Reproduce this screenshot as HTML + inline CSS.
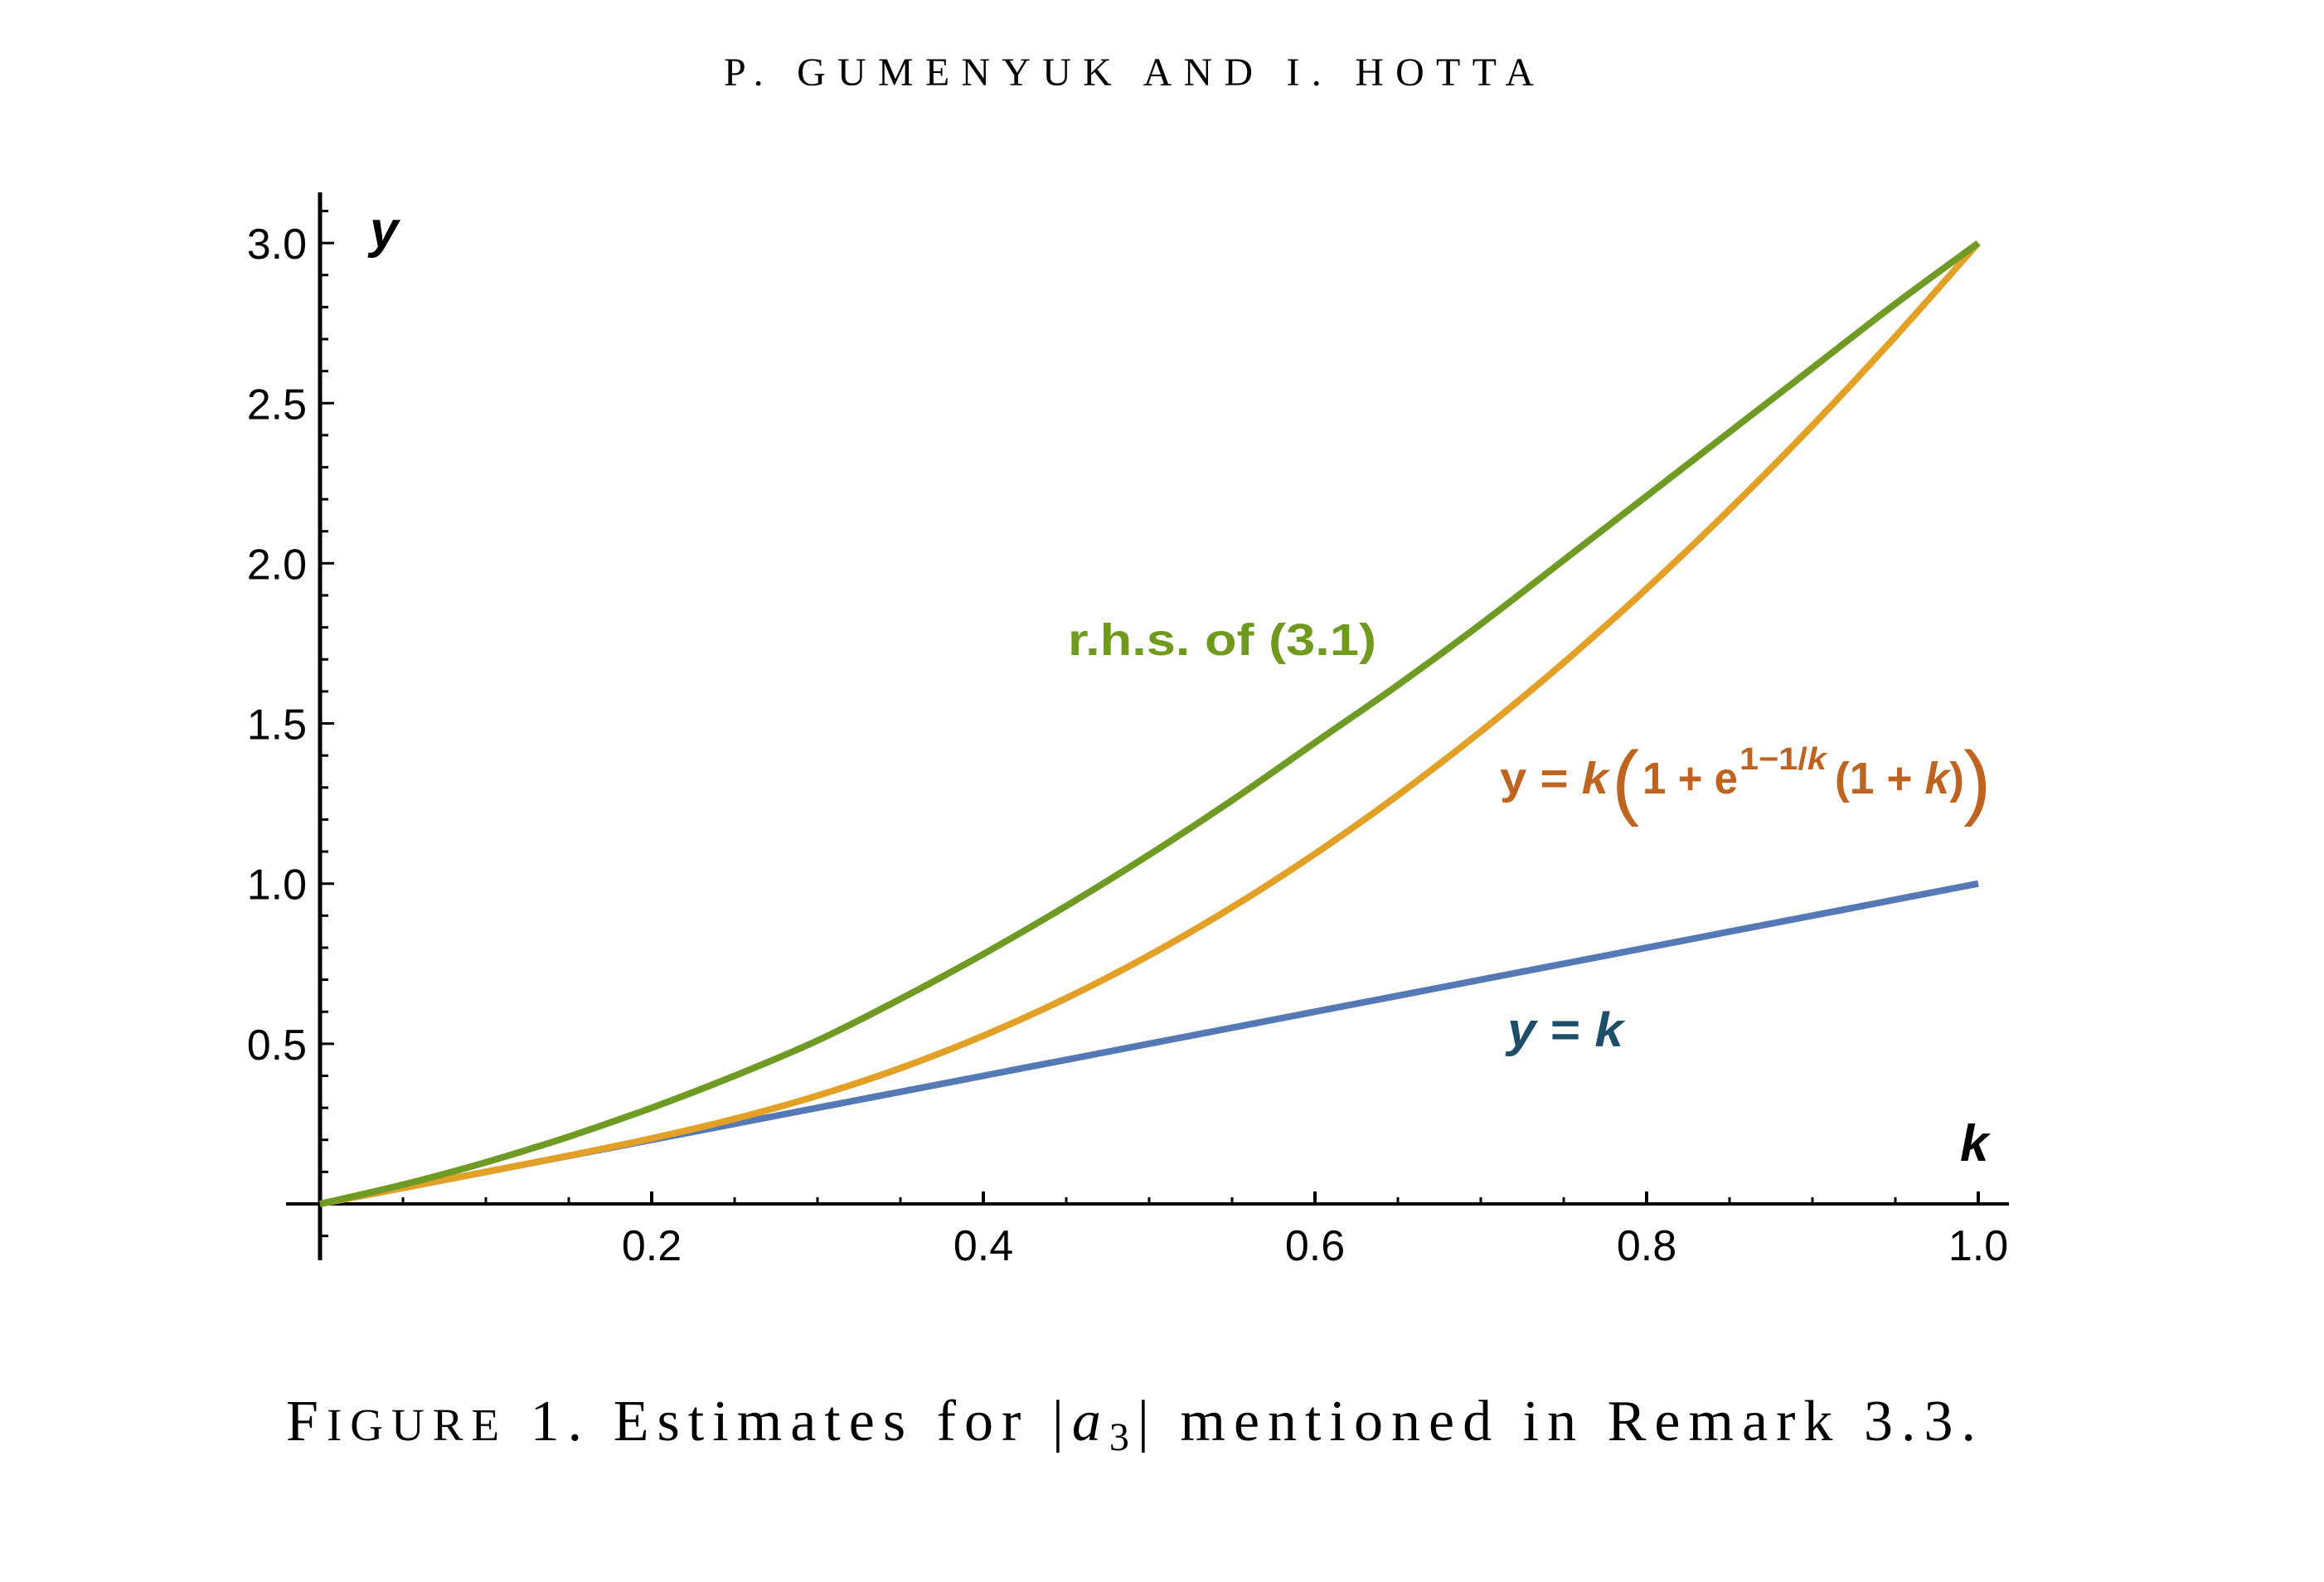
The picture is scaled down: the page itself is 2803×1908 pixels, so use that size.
<!DOCTYPE html>
<html><head><meta charset="utf-8"><style>
html,body{margin:0;padding:0;background:#fff;width:2803px;height:1908px;overflow:hidden}
svg{display:block}
</style></head><body>
<svg id="chart" width="2803" height="1908" viewBox="0 0 2803 1908" xmlns="http://www.w3.org/2000/svg">
<text x="873" y="103" font-family="Liberation Serif, serif" font-size="48" fill="#000" textLength="977" lengthAdjust="spacing">P. GUMENYUK AND I. HOTTA</text>
<g id="axes"></g>
<g id="series"></g>
<text x="446" y="298" font-family="Liberation Sans, sans-serif" font-weight="bold" font-style="italic" font-size="62" fill="#000">y</text>
<text x="2364" y="1400" font-family="Liberation Sans, sans-serif" font-weight="bold" font-style="italic" font-size="62" fill="#000">k</text>
<text x="1288" y="790" font-family="Liberation Sans, sans-serif" font-weight="bold" font-size="54" fill="#6f9a1d" textLength="372" lengthAdjust="spacingAndGlyphs">r.h.s. of (3.1)</text>
<g font-family="Liberation Sans, sans-serif" font-weight="bold" font-size="54" fill="#bf6420">
<text x="1809" y="957" textLength="131" lengthAdjust="spacingAndGlyphs">y = <tspan font-style="italic">k</tspan></text>
<text x="1944" y="976" font-size="100" font-weight="normal">(</text>
<text x="1981" y="957" textLength="115" lengthAdjust="spacingAndGlyphs">1 + e</text>
<text x="2098" y="928" font-size="38" textLength="105" lengthAdjust="spacingAndGlyphs">1−1/<tspan font-style="italic">k</tspan></text>
<text x="2213" y="957" textLength="156" lengthAdjust="spacingAndGlyphs">(1 + <tspan font-style="italic">k</tspan>)</text>
<text x="2368" y="976" font-size="100" font-weight="normal">)</text>
</g>
<text x="1818" y="1262" font-family="Liberation Sans, sans-serif" font-weight="bold" font-size="58" fill="#1d4f6b" textLength="140" lengthAdjust="spacingAndGlyphs"><tspan font-style="italic">y</tspan> = <tspan font-style="italic">k</tspan></text>
<text x="345" y="1737" font-family="Liberation Serif, serif" font-size="70" fill="#000" textLength="2038" lengthAdjust="spacing">F<tspan font-size="55">IGURE</tspan> 1.  Estimates for |<tspan font-style="italic">a</tspan><tspan font-size="48" dy="12">3</tspan><tspan dy="-12">| mentioned in Remark 3.3.</tspan></text>
</svg>
<script>
const kValues=[0,0.05,0.1,0.15,0.2,0.25,0.3,0.35,0.4,0.45,0.5,0.55,0.6,0.65,0.7,0.75,0.8,0.85,0.9,0.95,1.0];
const blueValues=[0,0.05,0.1,0.15,0.2,0.25,0.3,0.35,0.4,0.45,0.5,0.55,0.6,0.65,0.7,0.75,0.8,0.85,0.9,0.95,1.0];
const orangeValues=[0,0.05,0.1,0.1506,0.2044,0.2656,0.338,0.4238,0.525,0.6422,0.776,0.9261,1.093,1.276,1.475,1.69,1.921,2.168,2.43,2.708,3.0];
const greenValues=[0,0.06,0.13,0.21,0.3,0.4,0.51,0.64,0.78,0.93,1.09,1.26,1.44,1.62,1.81,2.01,2.21,2.41,2.61,2.81,3.0];
const xTickLabels=["0.2","0.4","0.6","0.8","1.0"];
const xTickValues=[0.2,0.4,0.6,0.8,1.0];
const yTickLabels=["0.5","1.0","1.5","2.0","2.5","3.0"];
const yTickValues=[0.5,1.0,1.5,2.0,2.5,3.0];

const NS="http://www.w3.org/2000/svg";
const X0=386,PX=2000,Y0=1452,PY=386.3;
function xs(v){return X0+v*PX;}
function ys(v){return Y0-v*PY;}
const axes=document.getElementById('axes');
const series=document.getElementById('series');
function mk(tag,attrs,parent){const e=document.createElementNS(NS,tag);for(const k in attrs)e.setAttribute(k,attrs[k]);parent.appendChild(e);return e;}

let ax=mk('line',{x1:345,y1:Y0,x2:2423,y2:Y0,stroke:'#000','stroke-width':4},axes);


let ay=mk('line',{x1:X0,y1:232,x2:X0,y2:1520,stroke:'#000','stroke-width':5},axes);



for(let i=1;i<=20;i++){const v=i*0.05;const major=i%4===0;
  const t=mk('line',{x1:xs(v),y1:Y0,x2:xs(v),y2:Y0-(major?15:8),stroke:'#000','stroke-width':major?4:3},axes);
  
  }
for(let i=-1;i<=31;i++){const v=i*0.1;if(i===0)continue;const major=i%5===0&&i>0;
  const t=mk('line',{x1:X0,y1:ys(v),x2:X0+(major?17:10),y2:ys(v),stroke:'#000','stroke-width':3},axes);
  
  }
xTickLabels.forEach((lab,i)=>{const t=mk('text',{x:xs(xTickValues[i]),y:1520,'text-anchor':'middle','font-family':'Liberation Sans, sans-serif','font-size':52,fill:'#000'},axes);t.textContent=lab;
  
  });
yTickLabels.forEach((lab,i)=>{const t=mk('text',{x:370,y:ys(yTickValues[i])+19,'text-anchor':'end','font-family':'Liberation Sans, sans-serif','font-size':52,fill:'#000'},axes);t.textContent=lab;
  
  });

function line(vals,color,name){
  const P=vals.map((v,i)=>[xs(kValues[i]),ys(v)]);
  let d='M'+P[0][0].toFixed(1)+' '+P[0][1].toFixed(1);
  for(let i=0;i<P.length-1;i++){const p0=P[Math.max(0,i-1)],p1=P[i],p2=P[i+1],p3=P[Math.min(P.length-1,i+2)];
    const c1=[p1[0]+(p2[0]-p0[0])/6,p1[1]+(p2[1]-p0[1])/6],c2=[p2[0]-(p3[0]-p1[0])/6,p2[1]-(p3[1]-p1[1])/6];
    d+=' C'+c1[0].toFixed(1)+' '+c1[1].toFixed(1)+' '+c2[0].toFixed(1)+' '+c2[1].toFixed(1)+' '+p2[0].toFixed(1)+' '+p2[1].toFixed(1);}
  const p=mk('path',{d:d,fill:'none',stroke:color,'stroke-width':8,'stroke-linejoin':'round'},series);
  
  }
line(blueValues,'#5579b4','line-y-equals-k');
line(orangeValues,'#e3a027','line-orange-formula');
line(greenValues,'#6f9a23','line-rhs');
</script>
</body></html>
